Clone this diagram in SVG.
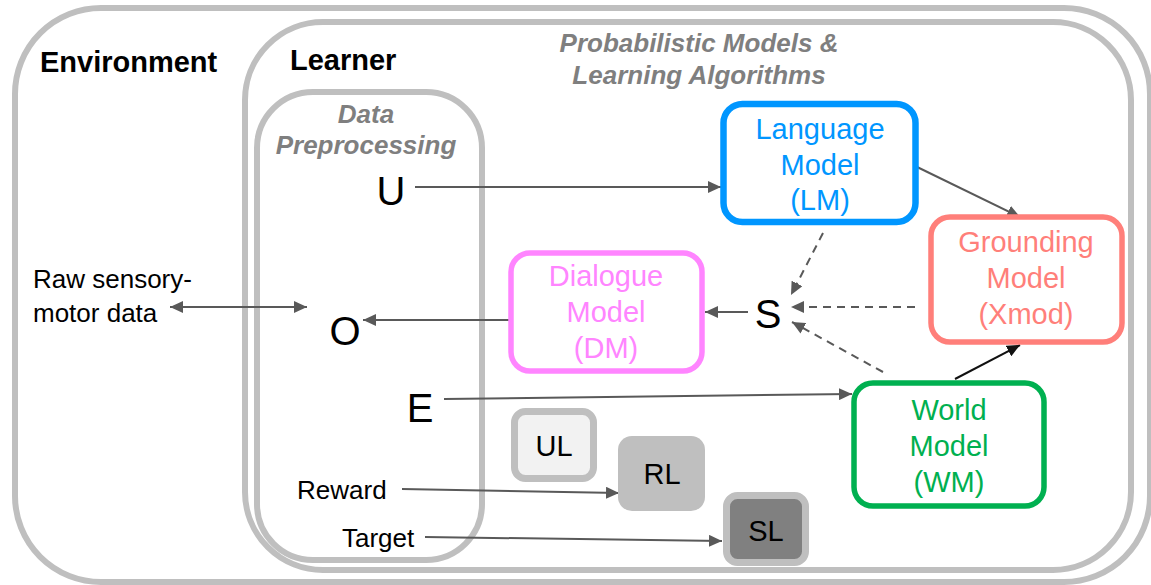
<svg xmlns="http://www.w3.org/2000/svg" width="1151" height="585" viewBox="0 0 1151 585">
<defs>
<style>
text{font-family:"Liberation Sans",Arial,sans-serif;}
.frame{fill:none;stroke:#bfbfbf;stroke-width:6;}
.title{font-size:29px;font-weight:bold;fill:#000;}
.sub{font-size:26px;font-weight:bold;font-style:italic;fill:#7f7f7f;text-anchor:middle;}
.var{font-size:40px;fill:#000;text-anchor:middle;}
.lbl{font-size:26px;fill:#000;}
.node{font-size:29px;text-anchor:middle;}
.box{fill:#fff;stroke-width:5.5;}
.ar{stroke:#595959;stroke-width:2;fill:none;marker-end:url(#ah);}
.da{stroke:#595959;stroke-width:2;fill:none;stroke-dasharray:8,6;marker-end:url(#ah);}
.alg{font-size:29px;fill:#000;text-anchor:middle;}
</style>
<marker id="ah" markerUnits="userSpaceOnUse" markerWidth="14" markerHeight="12" refX="13" refY="6" orient="auto-start-reverse">
<path d="M0,0 L13,6 L0,12 z" fill="#595959"/>
</marker>
<marker id="ahk" markerUnits="userSpaceOnUse" markerWidth="14" markerHeight="12" refX="13" refY="6" orient="auto">
<path d="M0,0 L13,6 L0,12 z" fill="#111"/>
</marker>
</defs>
<rect width="1151" height="585" fill="#fff"/>

<g id="environment">
<rect class="frame" x="15" y="8" width="1135" height="574" rx="86"/>
<text class="title" x="40" y="72">Environment</text>
<text class="lbl" x="33" y="288">Raw sensory-</text>
<text class="lbl" x="33" y="322">motor data</text>
</g>

<g id="learner">
<rect class="frame" x="245" y="22" width="886" height="548" rx="78"/>
<text class="title" x="290" y="70">Learner</text>
<text class="sub" x="699" y="52">Probabilistic Models &amp;</text>
<text class="sub" x="699" y="84">Learning Algorithms</text>
</g>

<g id="data-preprocessing">
<rect class="frame" x="257" y="92" width="225" height="468" rx="56"/>
<text class="sub" x="366" y="123">Data</text>
<text class="sub" x="366" y="154">Preprocessing</text>
</g>

<g id="connectors">
<line class="ar" x1="415" y1="187" x2="721" y2="187"/>
<line class="ar" x1="913" y1="165" x2="1020" y2="217"/>
<line class="da" x1="823" y1="233" x2="791" y2="295"/>
<line class="da" x1="915" y1="307" x2="791" y2="307"/>
<line class="da" x1="883" y1="372" x2="792" y2="322"/>
<line class="ar" x1="748" y1="312" x2="705" y2="312"/>
<line class="ar" x1="509" y1="320" x2="363" y2="320"/>
<line class="ar" x1="170" y1="307" x2="307" y2="307" style="marker-start:url(#ah)"/>
<line class="ar" x1="444" y1="399" x2="852" y2="394"/>
<line x1="955" y1="379" x2="1020" y2="345" stroke="#111" stroke-width="2" marker-end="url(#ahk)"/>
<line class="ar" x1="402" y1="489" x2="619" y2="493"/>
<line class="ar" x1="425" y1="537" x2="722" y2="541"/>
</g>

<g id="U"><text class="var" x="391" y="205">U</text></g>
<g id="O"><text class="var" x="345" y="345">O</text></g>
<g id="E"><text class="var" x="420" y="422">E</text></g>
<g id="S"><text class="var" x="768" y="328">S</text></g>
<g id="Reward"><text class="lbl" x="297" y="499">Reward</text></g>
<g id="Target"><text class="lbl" x="342" y="547">Target</text></g>

<g id="LM">
<rect class="box" x="723.5" y="104" width="192" height="118" rx="19" stroke="#0096ff" style="stroke-width:6.5"/>
<text class="node" fill="#0096ff" x="820" y="139">Language</text>
<text class="node" fill="#0096ff" x="820" y="175">Model</text>
<text class="node" fill="#0096ff" x="820" y="210">(LM)</text>
</g>

<g id="Xmod">
<rect class="box" x="931" y="217" width="191" height="125" rx="19" stroke="#ff7f7a"/>
<text class="node" fill="#ff7f7a" x="1026" y="252">Grounding</text>
<text class="node" fill="#ff7f7a" x="1026" y="288">Model</text>
<text class="node" fill="#ff7f7a" x="1026" y="324">(Xmod)</text>
</g>

<g id="DM">
<rect class="box" x="511" y="253" width="191" height="118" rx="19" stroke="#ff85ff"/>
<text class="node" fill="#ff85ff" x="606" y="286">Dialogue</text>
<text class="node" fill="#ff85ff" x="606" y="322">Model</text>
<text class="node" fill="#ff85ff" x="606" y="358">(DM)</text>
</g>

<g id="WM">
<rect class="box" x="854" y="383" width="190" height="123" rx="19" stroke="#00b050"/>
<text class="node" fill="#00b050" x="949" y="420">World</text>
<text class="node" fill="#00b050" x="949" y="456">Model</text>
<text class="node" fill="#00b050" x="949" y="492">(WM)</text>
</g>

<g id="UL">
<rect x="514.5" y="411.5" width="79" height="67" rx="11" fill="#f2f2f2" stroke="#bfbfbf" stroke-width="7"/>
<text class="alg" x="554" y="456">UL</text>
</g>
<g id="RL">
<rect x="618" y="436" width="87" height="75" rx="14" fill="#bfbfbf"/>
<text class="alg" x="662" y="484">RL</text>
</g>
<g id="SL">
<rect x="726.5" y="495.5" width="79" height="67" rx="11" fill="#808080" stroke="#bfbfbf" stroke-width="7"/>
<text class="alg" x="766" y="541">SL</text>
</g>
</svg>
